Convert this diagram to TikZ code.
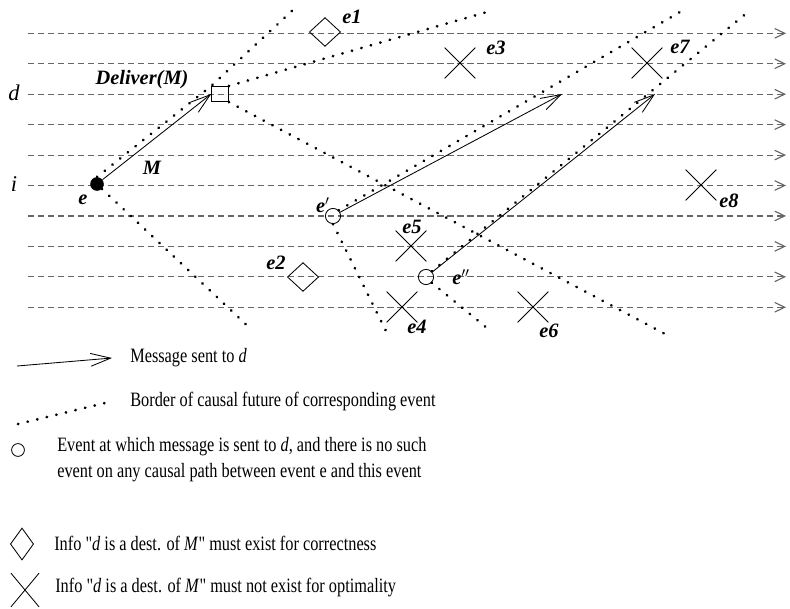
\documentclass[tikz,border=0pt]{standalone}
\usepackage{fontspec}
\setmainfont{Liberation Serif}
\newfontfamily\plainquote{Liberation Serif}[FakeStretch=0.8]
\newfontfamily\legendfont{Liberation Serif}[FakeStretch=0.8, Ligatures=TeX]
\newcommand{\dquote}{{\plainquote"}}
\usetikzlibrary{
    arrows.meta,
    shapes.geometric,
    shapes.misc,
}

\begin{document}
\begin{tikzpicture}[
    x=0.025cm, y=-0.025cm,
    proc/.style={draw=black!60, line width=0.8pt, dash pattern=on 4.5pt off 2.6pt,
                 -{Straight Barb[length=2.5mm, width=2.4mm]}},
    msg/.style={draw, line width=0.6pt, -{Straight Barb[length=5mm, width=3.2mm]}},
    border/.style={draw, line width=2pt, line cap=round, dash pattern=on 0.2pt off 6.8pt},
    xmark/.style={cross out, draw, line width=0.6pt, minimum size=0.75cm, inner sep=0pt},
    dmark/.style={diamond, draw, line width=0.6pt, minimum width=0.78cm,
                  minimum height=0.72cm, inner sep=0pt},
    sendev/.style={circle, draw, line width=0.6pt, minimum size=0.38cm, inner sep=0pt},
    lbl/.style={font=\fontsize{14.5}{16}\selectfont\bfseries\itshape, inner sep=1pt},
    plbl/.style={font=\fontsize{16}{16}\selectfont\itshape, inner sep=1pt},
    legend/.style={font=\legendfont\fontsize{14.5}{18.5}\selectfont, anchor=west, align=left, inner sep=0pt},
]
    \useasboundingbox (0,0) rectangle (790,608);

    % Process lines
    \foreach \k in {1,...,10} {
        \coordinate (l\k) at (28, {33.3+(\k-1)*30.44});
        \coordinate (r\k) at (786, {33.3+(\k-1)*30.44});
        \draw[proc] (l\k) -- (r\k);
    }
    \node[plbl] (dlab) at (14,93) {d};
    \node[plbl] (ilab) at (14,184) {i};

    % Events
    \node[circle, fill, minimum size=0.34cm, inner sep=0pt] (e) at (97,184) {};
    \node[rectangle, draw, line width=0.6pt, minimum width=0.42cm, minimum height=0.38cm,
          inner sep=0pt] (dlv) at (220,94) {};
    \node[sendev] (ep) at (333,216) {};
    \node[sendev] (epp) at (426,277) {};
    \node[dmark] (e1) at (325,32) {};
    \node[dmark] (e2) at (303,277) {};
    \node[xmark] (e3) at (460,63) {};
    \node[xmark] (e4) at (402,307) {};
    \node[xmark] (e5) at (411,246) {};
    \node[xmark] (e6) at (533,307) {};
    \node[xmark] (e7) at (647,63) {};
    \node[xmark] (e8) at (701,185) {};

    % Labels
    \node[lbl] (le) at (83,200) {e};
    \node[lbl] (ldlv) at (142,80) {Deliver(M)};
    \node[lbl] (lm) at (152,168) {M};
    \node[lbl] (le1) at (352,17) {e1};
    \node[lbl] (le2) at (276,263) {e2};
    \node[lbl] (le3) at (496,48) {e3};
    \node[lbl] (le4) at (417,327) {e4};
    \node[lbl] (le5) at (412,227) {e5};
    \node[lbl] (le6) at (549,331) {e6};
    \node[lbl] (le7) at (680,47) {e7};
    \node[lbl] (le8) at (729,201) {e8};
    \node[lbl] (lep) at (323,205) {e$'$};
    \node[lbl] (lepp) at (461,277) {e$''$};

    % Messages to d
    \coordinate (rcv1) at (562,94);
    \coordinate (rcv2) at (655,94);
    \draw[msg] (e) -- (dlv.west);
    \draw[msg] (ep) -- (rcv1);
    \draw[msg] (epp) -- (rcv2);

    % Borders of causal futures
    \coordinate (b1) at (295,8);
    \coordinate (b2) at (487,12);
    \coordinate (b3) at (667,335);
    \coordinate (b4) at (252,330);
    \coordinate (b5) at (680,12);
    \coordinate (b6) at (387,333);
    \coordinate (b7) at (748,12);
    \coordinate (b8) at (487,328);
    \draw[border] (e.north) -- (dlv.north west) -- (b1);
    \draw[border] (dlv.north east) -- (b2);
    \draw[border] (dlv.south east) -- (b3);
    \draw[border] (e.south east) -- (b4);
    \draw[border] (ep.north east) -- (b5);
    \draw[border] (ep.south) -- (b6);
    \draw[border] (epp.north east) -- (b7);
    \draw[border] (epp.south east) -- (b8);

    % Legend
    \coordinate (la1) at (17,366);
    \coordinate (la2) at (112,358);
    \draw[msg] (la1) -- (la2);
    \node[legend] (lt1) at (130,358) {Message sent to \textit{d}};
    \coordinate (lb1) at (18,424);
    \coordinate (lb2) at (105,403);
    \draw[border] (lb1) -- (lb2);
    \node[legend] (lt2) at (130,402) {Border of causal future of corresponding event};
    \node[sendev, minimum size=0.32cm] (lc) at (18,450) {};
    \node[legend] (lt3) at (57,460) {Event at which message is sent to \textit{d}, and there is no such\\
        event on any causal path between event e and this event};
    \node[dmark, minimum width=0.58cm, minimum height=0.8cm] (ld) at (22,544) {};
    \node[legend] (lt4) at (54,543) {Info \dquote\textit{d} is a dest. of \textit{M}\dquote{} must exist for correctness};
    \node[xmark, minimum width=0.68cm, minimum height=0.82cm] (lx) at (25,590) {};
    \node[legend] (lt5) at (55,588) {Info \dquote\textit{d} is a dest. of \textit{M}\dquote{} must not exist for optimality};
\end{tikzpicture}
\end{document}
